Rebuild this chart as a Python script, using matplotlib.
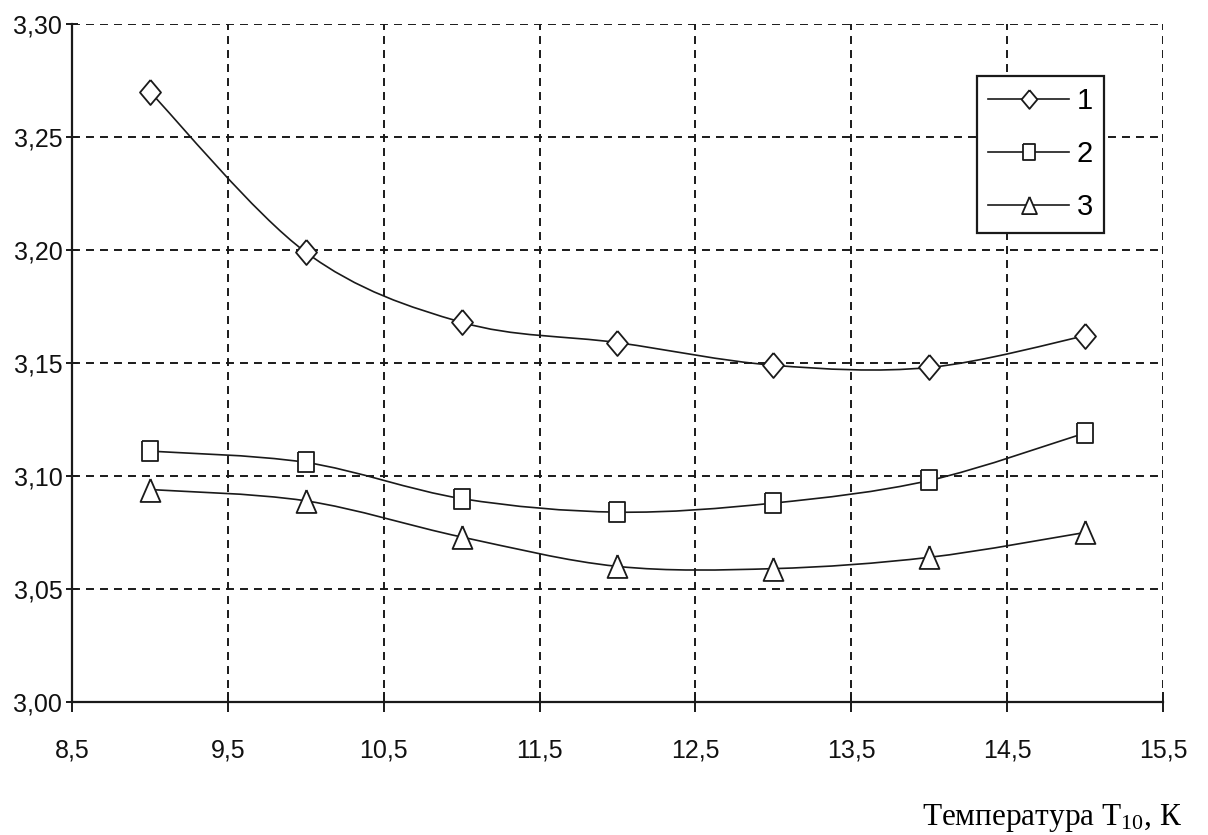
import numpy as np
import matplotlib
matplotlib.use("Agg")
import matplotlib.pyplot as plt
from matplotlib.path import Path
from matplotlib.patches import PathPatch
from matplotlib.lines import Line2D

matplotlib.rcParams['mathtext.fontset'] = 'custom'
matplotlib.rcParams['mathtext.rm'] = 'Liberation Serif'
matplotlib.rcParams['mathtext.default'] = 'regular'
plt.rcParams['font.family'] = ['Liberation Sans', 'DejaVu Sans']

# temperature T10, K
temp = [9, 10, 11, 12, 13, 14, 15]

curve1 = [3.270, 3.199, 3.168, 3.159, 3.149, 3.148, 3.162]
curve2 = [3.111, 3.106, 3.090, 3.084, 3.088, 3.098, 3.119]
curve3 = [3.094, 3.089, 3.073, 3.060, 3.059, 3.064, 3.075]
names = ['1', '2', '3']

xticks = [8.5, 9.5, 10.5, 11.5, 12.5, 13.5, 14.5, 15.5]
xticklabels = ['8,5', '9,5', '10,5', '11,5', '12,5', '13,5', '14,5', '15,5']
yticks = [3.00, 3.05, 3.10, 3.15, 3.20, 3.25, 3.30]
yticklabels = ['3,00', '3,05', '3,10', '3,15', '3,20', '3,25', '3,30']

# marker outlines (slightly taller than wide, like spreadsheet markers)
diamond = [(0, 1), (0.84, 0), (0, -1), (-0.84, 0), (0, 1)]
square = [(-0.8, 1), (0.8, 1), (0.8, -1), (-0.8, -1), (-0.8, 1)]
triangle = [(0, 1), (0.87, -1), (-0.87, -1), (0, 1)]
markers = [(diamond, 18), (square, 15), (triangle, 16.5)]

ink = '#1a1a1a'


def smooth_path(xs, ys):
    # cubic bezier through every point (catmull-rom style smoothing)
    pts = np.column_stack([xs, ys]).astype(float)
    n = len(pts)
    verts = [pts[0]]
    codes = [Path.MOVETO]
    for i in range(n - 1):
        p0 = pts[max(i - 1, 0)]
        p1 = pts[i]
        p2 = pts[i + 1]
        p3 = pts[min(i + 2, n - 1)]
        verts += [p1 + (p2 - p0) / 6, p2 - (p3 - p1) / 6, p2]
        codes += [Path.CURVE4] * 3
    return Path(verts, codes)


fig = plt.figure(figsize=(12.08, 8.35), dpi=100)
ax = fig.add_axes([0.0596, 0.1593, 0.9031, 0.812])

ax.set_xlim(8.5, 15.5)
ax.set_ylim(3.00, 3.30)
ax.set_xticks(xticks)
ax.set_xticklabels(xticklabels)
ax.set_yticks(yticks)
ax.set_yticklabels(yticklabels)

ax.grid(True, color=ink, linestyle=(0, (4.1, 3.1)), linewidth=1.4)
ax.set_axisbelow(True)
for side in ['top', 'right']:
    ax.spines[side].set_visible(False)
for side in ['left', 'bottom']:
    ax.spines[side].set_linewidth(1.6)
    ax.spines[side].set_color(ink)

ax.tick_params(axis='y', direction='inout', length=8, width=1.4, color=ink,
               labelsize=18, pad=3, labelcolor='#111111')
ax.tick_params(axis='x', direction='inout', length=14, width=1.4, color=ink,
               labelsize=18, pad=19, labelcolor='#111111')

handles = []
for ys, (shape, ms), name in zip([curve1, curve2, curve3], markers, names):
    ax.add_patch(PathPatch(smooth_path(temp, ys), fill=False, edgecolor=ink,
                           linewidth=1.2, zorder=3))
    ax.plot(temp, ys, linestyle='none', marker=shape, markersize=ms,
            markerfacecolor='white', markeredgecolor=ink,
            markeredgewidth=1.3, zorder=4)
    handles.append(Line2D([], [], color=ink, linewidth=1.2, marker=shape,
                          markersize=ms * 0.75, markerfacecolor='white',
                          markeredgecolor=ink, markeredgewidth=1.3))

leg = ax.legend(handles, names, loc='upper right',
                bbox_to_anchor=(0.946, 0.923), borderaxespad=0,
                fontsize=21, handlelength=2.8, handletextpad=0.25,
                labelspacing=0.86, borderpad=0.38, fancybox=False,
                framealpha=1, edgecolor=ink)
leg.get_frame().set_linewidth(1.6)

fig.text(0.763, 0.012, 'Температура T$_{10}$, К', family='Liberation Serif',
         fontsize=22.5, ha='left', va='baseline', color='black')

fig.savefig('out.png', dpi=100)
